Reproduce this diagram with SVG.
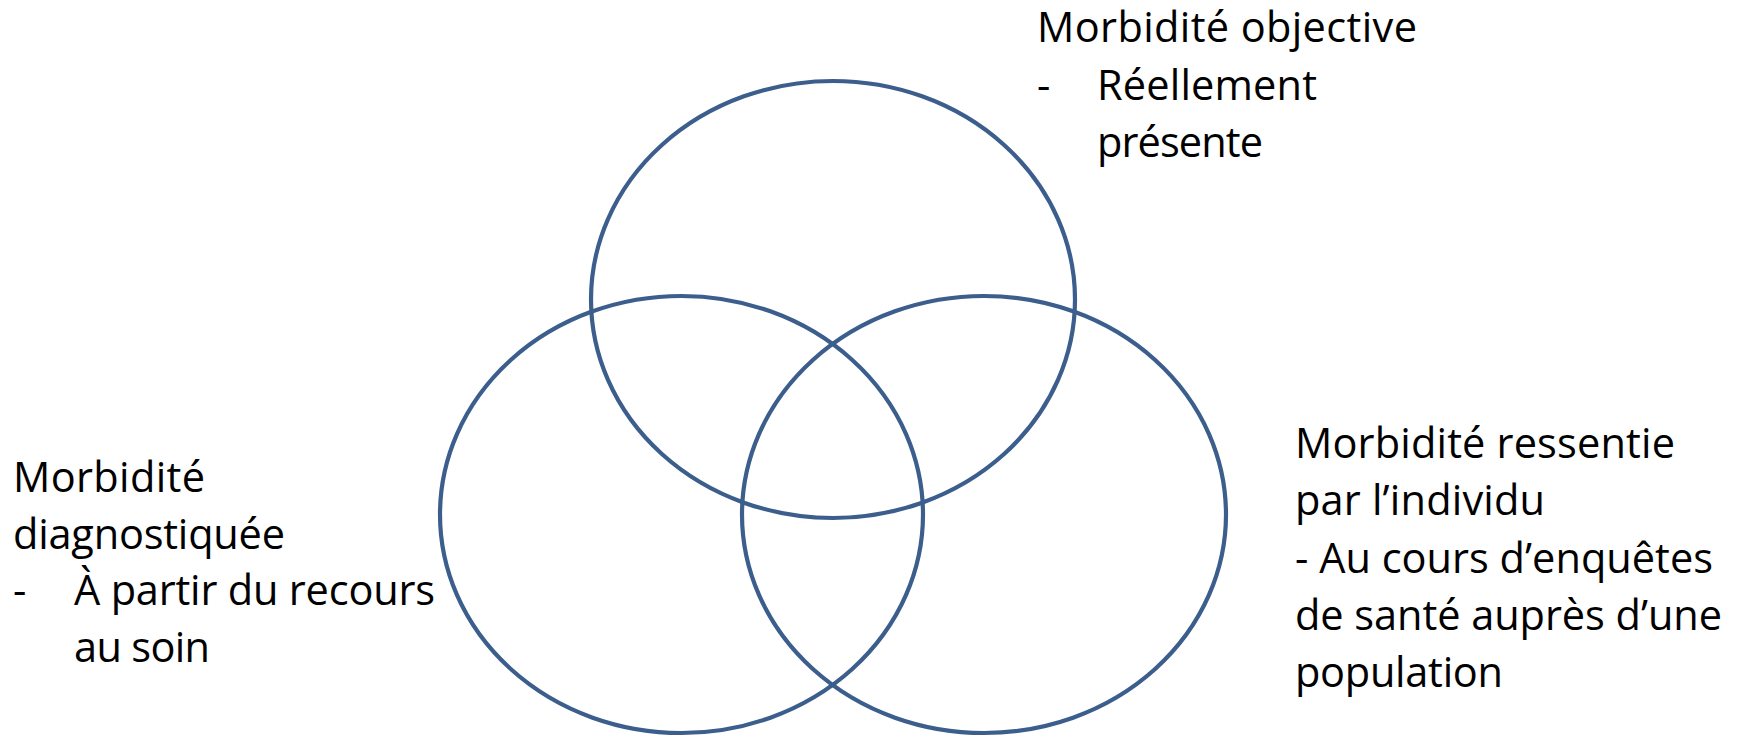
<svg xmlns="http://www.w3.org/2000/svg" width="1742" height="736" viewBox="0 0 1742 736">
<style>
.ring{fill:none;stroke:#3B5E8C;stroke-width:4.2}
.lbl{font-family:"Open Sans","Liberation Sans",sans-serif;font-size:41.5px;fill:#000}
</style>
<rect width="1742" height="736" fill="#fff"/>
<g id="connectors"></g>
<g id="node-objective">
<ellipse class="ring" cx="833" cy="299.5" rx="242" ry="218.5"/>
<text class="lbl" x="1037" y="42" textLength="380" lengthAdjust="spacing">Morbidité objective</text>
<text class="lbl" x="1037" y="100">-</text>
<text class="lbl" x="1097" y="100" textLength="220" lengthAdjust="spacing">Réellement</text>
<text class="lbl" x="1097" y="157" textLength="166" lengthAdjust="spacing">présente</text>
</g>
<g id="node-diagnostiquee">
<ellipse class="ring" cx="681.5" cy="514.5" rx="241.5" ry="218.5"/>
<text class="lbl" x="13" y="492" textLength="192" lengthAdjust="spacing">Morbidité</text>
<text class="lbl" x="13" y="549" textLength="272" lengthAdjust="spacing">diagnostiquée</text>
<text class="lbl" x="13" y="605">-</text>
<text class="lbl" x="74" y="605" textLength="361" lengthAdjust="spacing">À partir du recours</text>
<text class="lbl" x="74" y="662" textLength="136" lengthAdjust="spacing">au soin</text>
</g>
<g id="node-ressentie">
<ellipse class="ring" cx="984" cy="514.5" rx="242" ry="218.5"/>
<text class="lbl" x="1295" y="458" textLength="380" lengthAdjust="spacing">Morbidité ressentie</text>
<text class="lbl" x="1295" y="515" textLength="250" lengthAdjust="spacing">par l’individu</text>
<text class="lbl" x="1295" y="573" textLength="418" lengthAdjust="spacing">- Au cours d’enquêtes</text>
<text class="lbl" x="1295" y="630" textLength="427" lengthAdjust="spacing">de santé auprès d’une</text>
<text class="lbl" x="1295" y="687" textLength="208" lengthAdjust="spacing">population</text>
</g>
</svg>
